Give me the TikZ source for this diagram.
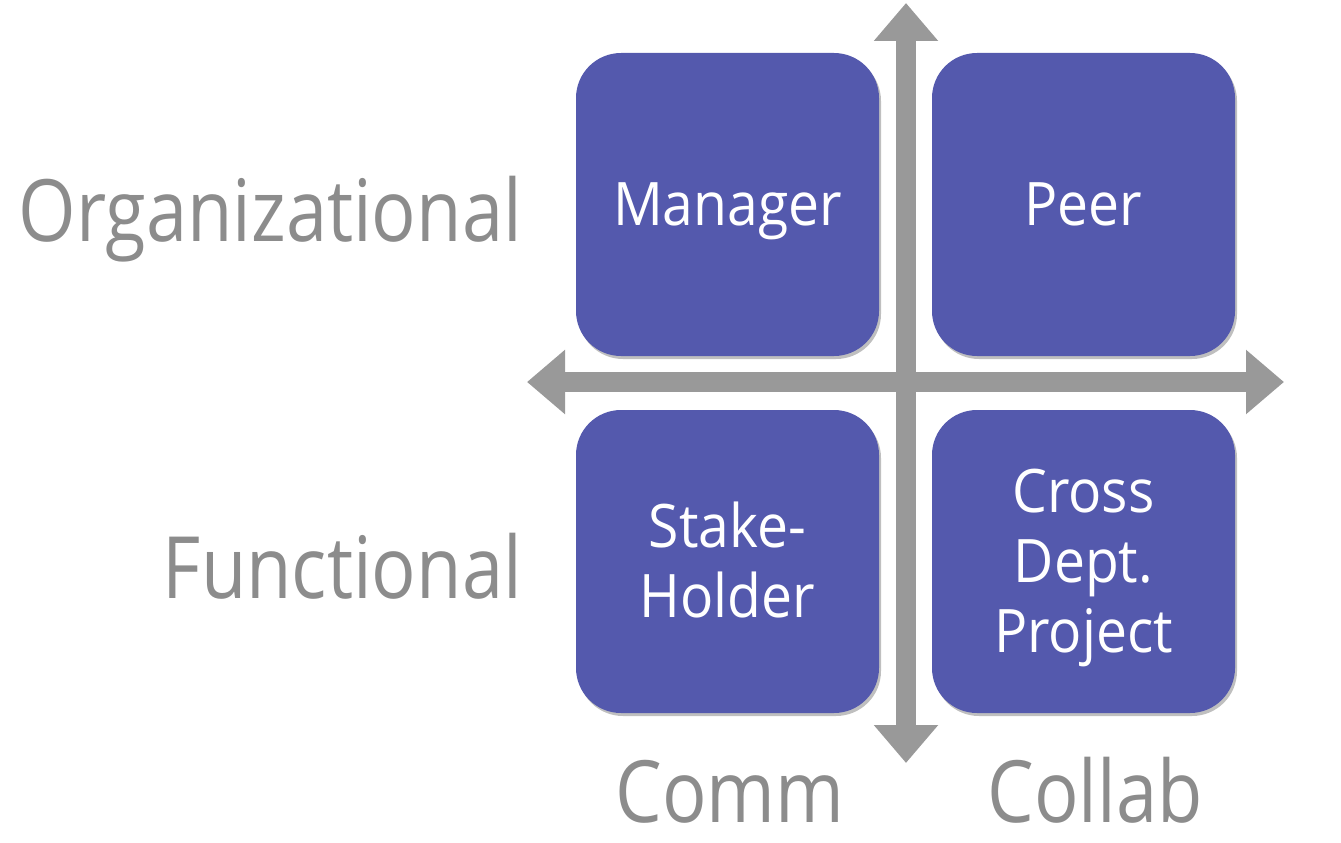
\documentclass[tikz,border=0pt]{standalone}
\usepackage{fontspec}
\setmainfont{Open Sans}
\newfontfamily\labelfont{Open Sans}[FakeStretch=0.86]
\newfontfamily\boxfont{Open Sans}[FakeStretch=0.92]
\usetikzlibrary{arrows.meta,shadows}
\definecolor{boxblue}{HTML}{5459AD}
\definecolor{axisgray}{HTML}{999999}
\definecolor{labelgray}{HTML}{8C8C8C}
\newcommand{\bxstrut}{\rule[-14.5pt]{0pt}{70pt}}
\tikzset{
  quad/.style={draw=none, fill=boxblue, rounded corners=45pt, minimum width=303pt, minimum height=303pt,
    text=white, align=center, inner sep=0pt, font=\boxfont\fontsize{60}{70}\selectfont,
    drop shadow={shadow xshift=2pt, shadow yshift=-3pt, opacity=0.25, fill=black}},
  axis/.style={draw=axisgray, line width=20pt, {Triangle[length=38pt,width=62pt]}-{Triangle[length=38pt,width=62pt]}},
  lbl/.style={text=labelgray, inner sep=0pt, font=\labelfont\fontsize{86}{100}\selectfont}
}
\begin{document}
\begin{tikzpicture}[x=1pt,y=-1pt]
\useasboundingbox (0,0) rectangle (1341,843);
\node[quad] (mgr) at (727.5,204.5) {\bxstrut Manager};
\node[quad] (peer) at (1083.5,204.5) {\bxstrut Peer};
\node[quad] (stake) at (727.5,561.5) {\bxstrut Stake-\\Holder\bxstrut};
\node[quad] (cross) at (1083.5,561.5) {\bxstrut Cross\\Dept.\\Project\bxstrut};
\coordinate (top) at (906,3);
\coordinate (bot) at (906,763);
\coordinate (lft) at (527,382);
\coordinate (rgt) at (1284,382);
\draw[axis] (lft) -- (rgt);
\draw[axis] (bot) -- (top);
\node[lbl, anchor=base east] (org) at (522,241) {Organizational};
\node[lbl, anchor=base east] (fun) at (522,598) {Functional};
\node[lbl, anchor=base] (comm) at (730,822) {Comm};
\node[lbl, anchor=base] (collab) at (1095,822) {Collab};
\end{tikzpicture}
\end{document}
